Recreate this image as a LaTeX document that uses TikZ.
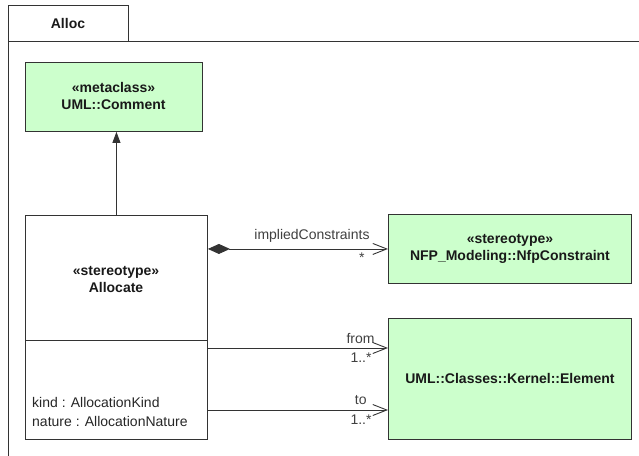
\documentclass[tikz,border=0pt]{standalone}
\usepackage{fontspec}
\setmainfont{Liberation Sans}
\usetikzlibrary{arrows.meta}
\definecolor{classgreen}{HTML}{CCFFCC}
\definecolor{edgegray}{HTML}{333333}
\begin{document}
\begin{tikzpicture}[x=1pt, y=-1pt, font=\fontsize{14}{17}\selectfont,
	classbox/.style={draw=edgegray, fill=classgreen, line width=0.9pt, anchor=north west, inner sep=0pt},
	plainbox/.style={draw=edgegray, line width=0.9pt, anchor=north west, inner sep=0pt},
	classname/.style={font=\fontsize{14}{17}\selectfont\bfseries, align=center, text=black!90},
	assoc/.style={edgegray, line width=0.9pt, -{Straight Barb[length=14pt, width=11pt]}},
	rolelabel/.style={text=black!75, inner sep=0pt}]
	\useasboundingbox (0,0) rectangle (639,455);
	
	% package frame
	\draw[edgegray, line width=0.9pt] (8,460) -- (8,41) -- (645,41);
	\draw[edgegray, line width=0.9pt] (8,41) -- (8,5) -- (128,5) -- (128,41);
	\node[classname] (tab) at (68,23) {Alloc};
	
	% classes
	\node[classbox, minimum width=177pt, minimum height=69pt] (comment) at (25,62) {};
	\node[classname] (commentname) at (113.5,96) {«metaclass»\\UML::Comment};
	
	\node[plainbox, minimum width=182pt, minimum height=224pt] (allocate) at (25,215) {};
	\coordinate (divider) at (0,340);
	\draw[edgegray, line width=0.9pt] (allocate.west |- divider) -- (allocate.east |- divider);
	\node[classname] (allocatename) at (116,279.5) {«stereotype»\\Allocate};
	\node[anchor=west, align=left, font=\fontsize{14}{19}\selectfont, text=black!85, inner sep=0pt] (attrs) at (32,412) {kind : AllocationKind\\nature : AllocationNature};
	
	\node[classbox, minimum width=243pt, minimum height=69pt] (nfp) at (388,214) {};
	\node[classname] (nfpname) at (nfp.center) {«stereotype»\\NFP\_Modeling::NfpConstraint};
	
	\node[classbox, minimum width=243pt, minimum height=121pt] (element) at (388,318) {};
	\node[classname] (elementname) at (element.center) {UML::Classes::Kernel::Element};
	
	% generalization
	\draw[edgegray, line width=0.9pt, -{Triangle[length=11pt, width=8pt]}] (allocate.north) -- (allocate.north |- comment.south);
	
	% associations
	\draw[assoc, {Diamond[length=22pt, width=10pt]}-{Straight Barb[length=14pt, width=11pt]}] (allocate.east |- nfp.west) -- (nfp.west)
		node[rolelabel, pos=1, anchor=south east, xshift=-18pt, yshift=6pt] (implied) {impliedConstraints}
		node[rolelabel, pos=1, anchor=north east, xshift=-23pt, yshift=-3pt] (impliedmult) {*};
	
	\coordinate (fromy) at (0,348);
	\coordinate (toy) at (0,410);
	\draw[assoc] (allocate.east |- fromy) -- (element.west |- fromy)
		node[rolelabel, pos=1, anchor=south east, xshift=-13pt, yshift=4pt] (fromlabel) {from}
		node[rolelabel, pos=1, anchor=north east, xshift=-16pt, yshift=-4pt] (frommult) {1..*};
	\draw[assoc] (allocate.east |- toy) -- (element.west |- toy)
		node[rolelabel, pos=1, anchor=south east, xshift=-21pt, yshift=5pt] (tolabel) {to}
		node[rolelabel, pos=1, anchor=north east, xshift=-16pt, yshift=-4pt] (tomult) {1..*};
\end{tikzpicture}
\end{document}
